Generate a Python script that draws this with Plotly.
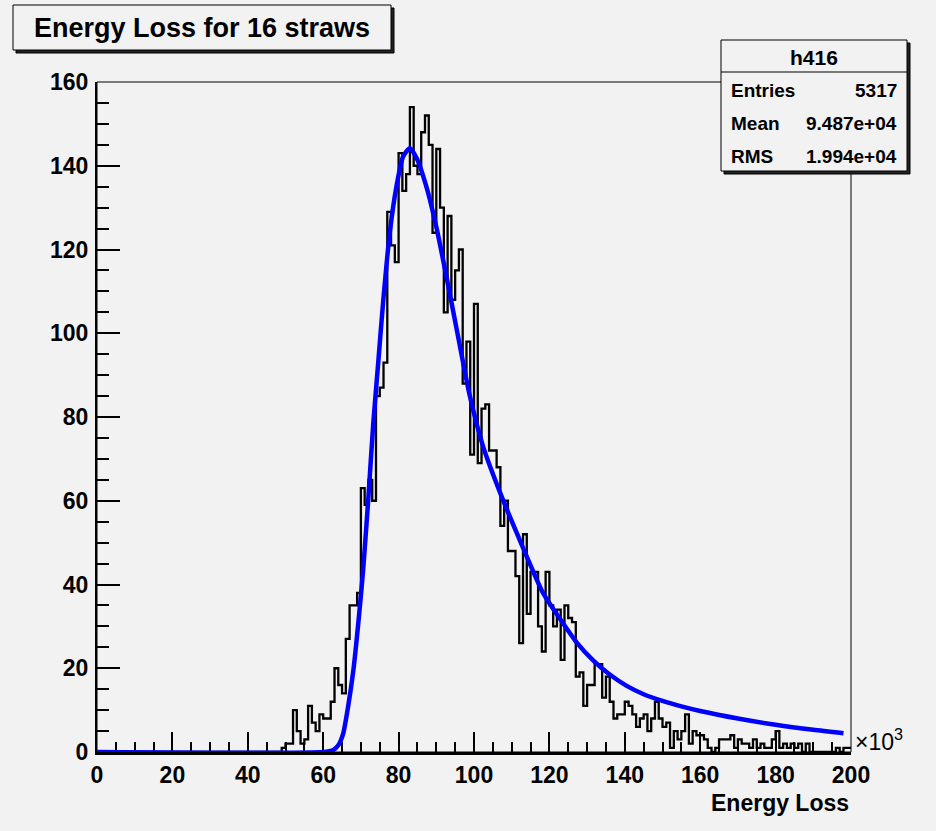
import numpy as np
import plotly.graph_objects as go

# ---------------- data ----------------
bin_low = 0.0
bin_width = 1.0          # in units of 10^3
counts = (
    [0] * 49 +
    [1, 2, 2, 10, 5, 2, 3, 11, 7, 5, 9, 8, 8, 12, 20, 16, 14, 27, 35, 35, 38,   # 49-69
     63, 59, 65, 60, 85, 87, 93, 129, 121, 117,                                 # 70-79
     143, 134, 138, 154, 140, 138, 148, 152, 145, 124,                          # 80-89
     144, 130, 105, 128, 108, 115, 120, 88, 98, 71,                             # 90-99
     107, 69, 82, 83, 72, 72, 68, 54, 60, 48,                                   # 100-109
     48, 42, 26, 52, 33, 43, 43, 30, 24, 43,                                    # 110-119
     35, 30, 34, 22, 35, 32, 31, 18, 19, 11,                                    # 120-129
     16, 16, 21, 21, 13, 18, 12, 8, 9, 9,                                       # 130-139
     12, 11, 9, 6, 8, 9, 5, 8, 12, 8,                                           # 140-149
     6, 7, 1, 5, 3, 5, 9, 2, 5, 4,                                              # 150-159
     4, 3, 1, 0, 1, 3, 3, 3, 4, 1,                                              # 160-169
     3, 2, 2, 1, 3, 1, 2, 1, 1, 3,                                              # 170-179
     5, 1, 2, 1, 2, 1, 2, 0, 2, 0,                                              # 180-189
     0, 0, 0, 0, 0, 0, 1, 0, 1, 1]                                              # 190-199
)

fit_x = [0, 60, 62.7, 64, 65.3, 66.6, 68, 69.3, 70.6, 72, 73.3, 74.6, 75.9, 77.7,
         79.5, 81.2, 83, 84.8, 87.5, 90.1, 92.8, 95.4, 98.9, 102.4, 106.9, 111.3,
         118.3, 122.8, 127.2, 131.6, 136, 140.5, 145, 150, 155, 160, 170, 180, 190, 198]
fit_y = [0, 0, 0.5, 1.6, 4.4, 10.8, 19.5, 30.7, 43.5, 61, 78.7, 93, 107.5, 124.3,
         135.4, 142.2, 144.2, 141.8, 134.6, 125, 113, 101, 85, 73, 62, 52.4,
         38.0, 31.8, 26.2, 21.9, 18.5, 15.8, 13.8, 12.2, 10.9, 9.8, 8.0, 6.5, 5.3, 4.5]

x_ticks = list(range(0, 201, 20))
y_ticks = list(range(0, 161, 20))

title_text = "Energy Loss for 16 straws"
x_title = "Energy Loss"
stats_name = "h416"
stats_rows = [("Entries", "5317"), ("Mean", "9.487e+04"), ("RMS", "1.994e+04")]

# ---------------- figure ----------------
W, H = 936, 831
L, R, T, B = 97, 851, 82, 752
BG = "#f2f2f2"
FONT = "Liberation Sans, Arial, Helvetica, sans-serif"


def px(p):
    return (p - L) / (R - L)


def py(p):
    return (B - p) / (B - T)


edges = bin_low + bin_width * np.arange(len(counts) + 1)
step_y = list(counts) + [counts[-1]]

fig = go.Figure()
fig.add_trace(go.Scatter(x=edges, y=step_y, mode="lines",
                         line=dict(color="black", width=2.3, shape="hv"),
                         showlegend=False, hoverinfo="skip"))
fig.add_trace(go.Scatter(x=fit_x, y=fit_y, mode="lines",
                         line=dict(color="#0000ff", width=4.5, shape="spline", smoothing=0.6),
                         showlegend=False, hoverinfo="skip", cliponaxis=False))

tickfont = dict(family=FONT, size=23, color="black", weight="bold")

fig.update_layout(
    width=W, height=H, autosize=False,
    margin=dict(l=L, r=W - R, t=T, b=H - B, pad=0),
    paper_bgcolor=BG, plot_bgcolor=BG,
    xaxis=dict(range=[0, 200], tickvals=x_ticks, ticks="inside", ticklen=20, tickwidth=2,
               tickcolor="black", showline=True, linewidth=3, linecolor="black",
               showgrid=False, zeroline=False, tickfont=tickfont, ticklabelstandoff=0,
               minor=dict(dtick=5, ticks="inside", ticklen=10, tickwidth=2, tickcolor="black",
                          showgrid=False),
               layer="below traces"),
    yaxis=dict(range=[0, 160], tickvals=y_ticks, ticks="inside", ticklen=23, tickwidth=2,
               tickcolor="black", showline=True, linewidth=2, linecolor="black",
               showgrid=False, zeroline=False, tickfont=tickfont, ticklabelstandoff=2,
               minor=dict(dtick=5, ticks="inside", ticklen=12, tickwidth=2, tickcolor="black",
                          showgrid=False),
               layer="below traces"),
)

shapes = []
# frame (thin top/right)
shapes.append(dict(type="rect", xref="paper", yref="paper", x0=0, x1=1, y0=0, y1=1,
                   line=dict(color="black", width=1), fillcolor="rgba(0,0,0,0)", layer="below"))
# title box with shadow
shapes.append(dict(type="rect", xref="paper", yref="paper", x0=px(16), x1=px(394), y0=py(53), y1=py(8),
                   line=dict(color="black", width=1), fillcolor="#222222", layer="above"))
shapes.append(dict(type="rect", xref="paper", yref="paper", x0=px(13), x1=px(391), y0=py(50), y1=py(5),
                   line=dict(color="black", width=1), fillcolor=BG, layer="above"))
# stats box with shadow
shapes.append(dict(type="rect", xref="paper", yref="paper", x0=px(724), x1=px(910), y0=py(174), y1=py(43),
                   line=dict(color="black", width=1), fillcolor="#222222", layer="above"))
shapes.append(dict(type="rect", xref="paper", yref="paper", x0=px(721), x1=px(907), y0=py(171), y1=py(40),
                   line=dict(color="black", width=1), fillcolor=BG, layer="above"))
shapes.append(dict(type="line", xref="paper", yref="paper", x0=px(721), x1=px(907), y0=py(72), y1=py(72),
                   line=dict(color="black", width=1), layer="above"))
fig.update_layout(shapes=shapes)

ann = []
ann.append(dict(text=title_text, xref="paper", yref="paper", x=px(202), y=py(28),
                xanchor="center", yanchor="middle", showarrow=False,
                font=dict(family=FONT, size=27, color="black", weight="bold")))
ann.append(dict(text=stats_name, xref="paper", yref="paper", x=px(814), y=py(57),
                xanchor="center", yanchor="middle", showarrow=False,
                font=dict(family=FONT, size=21, color="black", weight="bold")))
row_y = [91, 123, 156]
for (k, v), yy in zip(stats_rows, row_y):
    ann.append(dict(text=k, xref="paper", yref="paper", x=px(729), y=py(yy),
                    xanchor="left", yanchor="middle", showarrow=False,
                    font=dict(family=FONT, size=19, color="black", weight="bold")))
    ann.append(dict(text=v, xref="paper", yref="paper", x=px(899), y=py(yy),
                    xanchor="right", yanchor="middle", showarrow=False,
                    font=dict(family=FONT, size=19, color="black", weight="bold")))
ann.append(dict(text=x_title, xref="paper", yref="paper", x=1, y=py(803),
                xanchor="right", yanchor="middle", showarrow=False,
                font=dict(family=FONT, size=23, color="black", weight="bold")))
ann.append(dict(text="\u00d710<sup>3</sup>", xref="paper", yref="paper", x=px(853), y=py(740),
                xanchor="left", yanchor="middle", showarrow=False,
                font=dict(family=FONT, size=23, color="black")))
fig.update_layout(annotations=ann)

fig.write_html("out.html", config={"displayModeBar": False},
               post_script="document.body.style.margin='0';document.body.style.overflow='hidden';")
